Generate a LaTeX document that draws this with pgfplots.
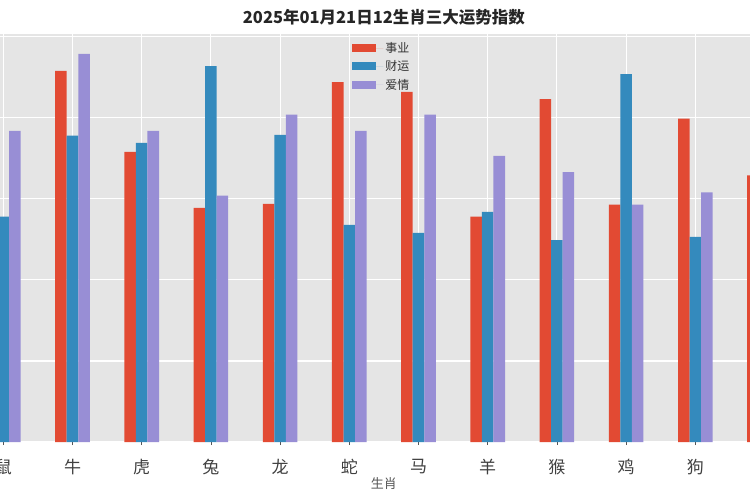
\documentclass[border=0pt]{standalone}
\usepackage{pgfplots}
\pgfplotsset{compat=1.18}
\usepackage{fontspec}
\setmainfont{Noto Sans CJK SC}
\definecolor{cred}{HTML}{E24A33}
\definecolor{cblue}{HTML}{348ABD}
\definecolor{cpurple}{HTML}{988ED5}
\definecolor{bggray}{HTML}{E5E5E5}
\definecolor{txtgray}{HTML}{555555}
\begin{document}
\begin{tikzpicture}
\begin{axis}[
  scale only axis,
  width=750bp, height=408bp,
  xmin=-0.04769, xmax=10.7905,
  ymin=0, ymax=100.7,
  clip mode=individual,
  axis background/.style={fill=bggray},
  axis line style={draw=none},
  grid=major,
  grid style={white, line width=1.1bp},
  xtick={0,1,2,3,4,5,6,7,8,9,10,11},
  xticklabels={鼠,牛,虎,兔,龙,蛇,马,羊,猴,鸡,狗,猪},
  ytick={0,20,40,60,80,100},
  yticklabels={},
  xtick pos=bottom, ytick pos=left,
  tick align=outside,
  major tick length=3bp,
  tick style={color=txtgray, line width=0.8bp},
  xticklabel style={font=\fontsize{17bp}{19bp}\selectfont, text=black!75, anchor=center, yshift=-22bp},
  ybar, bar width=0.1667,
  legend cell align=left,
  legend style={at={(0.509,0.99)}, anchor=north, draw=none, fill=none,
    font=\fontsize{12bp}{14bp}\selectfont, text=black!80, row sep=2.8bp},
  legend image code/.code={\fill[#1] (0bp,-4bp) rectangle (24bp,4bp); \path (0bp,0bp) -- (31bp,0bp);},
]
\addplot[fill=cred, draw=none, bar shift=-0.1667] coordinates {
 (0,62) (1,91.6) (2,71.6) (3,57.8) (4,58.8) (5,88.8) (6,86.4) (7,55.6) (8,84.6) (9,58.6) (10,79.8) (11,65.8)};
\addplot[fill=cblue, draw=none, bar shift=0] coordinates {
 (0,55.6) (1,75.6) (2,73.8) (3,92.8) (4,75.8) (5,53.6) (6,51.6) (7,56.8) (8,49.8) (9,90.8) (10,50.6) (11,70)};
\addplot[fill=cpurple, draw=none, bar shift=0.1667] coordinates {
 (0,76.8) (1,95.8) (2,76.8) (3,60.8) (4,80.8) (5,76.8) (6,80.8) (7,70.6) (8,66.6) (9,58.6) (10,61.6) (11,75)};
\legend{事业,财运,爱情}
\node[font=\bfseries\fontsize{16.5bp}{18bp}\selectfont, anchor=center, text=black!85, yshift=16.5bp] at (axis cs:5.5,100.7) {2025年01月21日12生肖三大运势指数};
\node[font=\fontsize{13bp}{15bp}\selectfont, anchor=center, text=txtgray, yshift=-42bp] at (axis cs:5.5,0) {生肖};
\end{axis}
\pgfresetboundingbox
\useasboundingbox ([yshift=-58bp]current axis.south west) rectangle ([yshift=34bp]current axis.north east);
\end{tikzpicture}
\end{document}
